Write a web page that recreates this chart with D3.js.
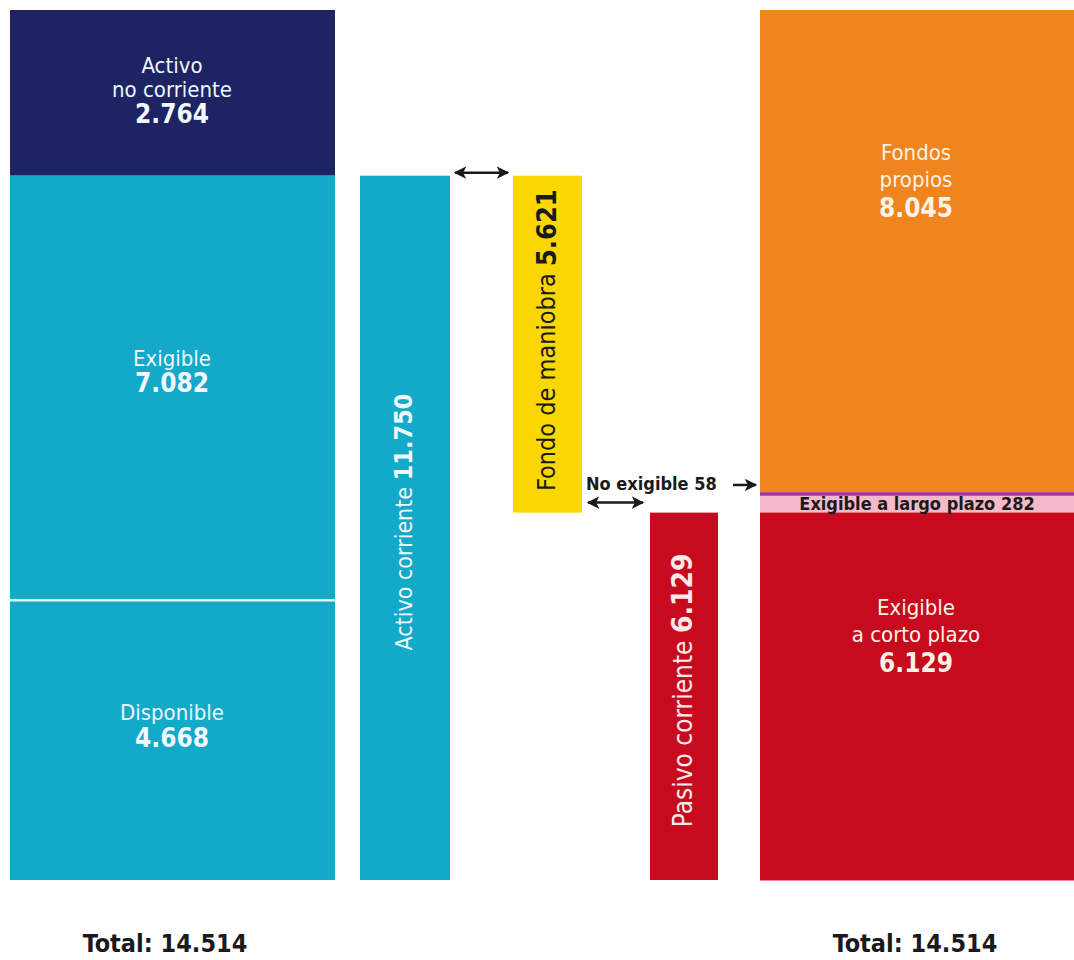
<!DOCTYPE html>
<html><head><meta charset="utf-8">
<script src="https://cdn.jsdelivr.net/npm/d3@7"></script>
<style>
body{margin:0;background:#fff;}
svg{display:block;}
text{font-family:"DejaVu Sans Condensed","Liberation Sans Narrow","Roboto Condensed",sans-serif;}
</style></head><body>
<svg id="c" width="1074" height="960"></svg>
<script>
// ---- data ----
const activoNames = ["Activo\nno corriente", "Exigible", "Disponible"];
const activoValues = [2764, 7082, 4668];
const pasivoNames = ["Fondos\npropios", "No exigible", "Exigible a largo plazo", "Exigible\na corto plazo"];
const pasivoValues = [8045, 58, 282, 6129];
const activoCorriente = 11750;
const pasivoCorriente = 6129;
const fondoManiobra = 5621;
const totalLabel = "Total: 14.514";
const fmt = v => d3.format(",")(v).replace(/,/g, ".");

// ---- styles ----
const activoColors = ["#1d2363", "#13a9c9", "#13a9c9"];
const pasivoColors = ["#f0851f", "#a1379b", "#f5b9c9", "#c70a1e"];
const cyan = "#13a9c9", yellow = "#f8d800", red = "#c70a1e", ink = "#1a1a1a";

const svg = d3.select("#c");
const total = d3.sum(activoValues);
const y = d3.scaleLinear().domain([0, total]).range([10, 880]);

function stack(vals) { let acc = 0; return vals.map(v => { const s = acc; acc += v; return [s, acc]; }); }
const aStack = stack(activoValues), pStack = stack(pasivoValues);

// left bar
svg.selectAll("rect.a").data(activoValues).join("rect")
  .attr("x", 10).attr("width", 325)
  .attr("y", (d, i) => y(aStack[i][0])).attr("height", (d, i) => y(aStack[i][1]) - y(aStack[i][0]))
  .attr("fill", (d, i) => activoColors[i]);
svg.append("line").attr("x1", 10).attr("x2", 335)
  .attr("y1", y(aStack[2][0])).attr("y2", y(aStack[2][0]))
  .attr("stroke", "#e8fbff").attr("stroke-width", 2.5);

const aLabelOff = [-2, -16, -14];
activoValues.forEach((v, i) => {
  const cy = (y(aStack[i][0]) + y(aStack[i][1])) / 2 + aLabelOff[i];
  const lines = activoNames[i].split("\n");
  const n = lines.length + 1, lh = 24;
  const t0 = cy - (n - 1) * lh / 2;
  lines.forEach((l, j) => svg.append("text").attr("x", 172).attr("y", t0 + j * lh)
    .attr("text-anchor", "middle").attr("dominant-baseline", "middle")
    .attr("fill", "#eef6ff").attr("font-size", 22).text(l));
  svg.append("text").attr("x", 172).attr("y", t0 + lines.length * lh + 1)
    .attr("text-anchor", "middle").attr("dominant-baseline", "middle")
    .attr("fill", "#f4f8ff").attr("font-size", 26).attr("font-weight", "bold").text(fmt(v));
});

// Activo corriente bar
const acTop = y(total - activoCorriente);
svg.append("rect").attr("x", 360).attr("width", 90).attr("y", acTop).attr("height", y(total) - acTop).attr("fill", cyan);
// Fondo de maniobra bar
const fmBottom = y(total - pasivoCorriente);
svg.append("rect").attr("x", 513).attr("width", 69).attr("y", acTop).attr("height", fmBottom - acTop).attr("fill", yellow);
// Pasivo corriente bar
svg.append("rect").attr("x", 650).attr("width", 68).attr("y", fmBottom).attr("height", y(total) - fmBottom).attr("fill", red);

// right bar
svg.selectAll("rect.p").data(pasivoValues).join("rect")
  .attr("x", 760).attr("width", 314)
  .attr("y", (d, i) => y(pStack[i][0])).attr("height", (d, i) => y(pStack[i][1]) - y(pStack[i][0]) + 0.5)
  .attr("fill", (d, i) => pasivoColors[i]);

const pLabelOff = { 0: -70, 3: -60 };
[0, 3].forEach(i => {
  const cy = (y(pStack[i][0]) + y(pStack[i][1])) / 2 + pLabelOff[i];
  const lines = pasivoNames[i].split("\n");
  const lh = 27;
  const t0 = cy - lines.length * lh / 2;
  lines.forEach((l, j) => svg.append("text").attr("x", 916).attr("y", t0 + j * lh)
    .attr("text-anchor", "middle").attr("dominant-baseline", "middle")
    .attr("fill", "#fbf3e6").attr("font-size", 22).text(l));
  svg.append("text").attr("x", 916).attr("y", t0 + lines.length * lh + 1)
    .attr("text-anchor", "middle").attr("dominant-baseline", "middle")
    .attr("fill", "#fbf3e6").attr("font-size", 26).attr("font-weight", "bold").text(fmt(pasivoValues[i]));
});
svg.append("text").attr("x", 917).attr("y", (y(pStack[2][0]) + y(pStack[2][1])) / 2 + 1)
  .attr("text-anchor", "middle").attr("dominant-baseline", "middle")
  .attr("fill", ink).attr("font-size", 18).attr("font-weight", "bold")
  .text(pasivoNames[2] + " " + fmt(pasivoValues[2]));

// rotated labels
function vlabel(cx, cy, name, val, color, fs) {
  const t = svg.append("text").attr("transform", `translate(${cx},${cy}) rotate(-90)`)
    .attr("text-anchor", "middle").attr("dominant-baseline", "middle")
    .attr("fill", color).attr("font-size", fs);
  t.append("tspan").text(name + "  ");
  t.append("tspan").attr("font-weight", "bold").attr("font-size", fs + 2).text(fmt(val));
}
vlabel(405, 522, "Activo corriente", activoCorriente, "#eef8ff", 23);
vlabel(548, (acTop + fmBottom) / 2 - 4, "Fondo de maniobra", fondoManiobra, ink, 25);
vlabel(684, (fmBottom + y(total)) / 2 - 6, "Pasivo corriente", pasivoCorriente, "#fbe9ea", 26);

// arrows
const defs = svg.append("defs");
defs.append("marker").attr("id", "ah").attr("viewBox", "0 0 10 10").attr("refX", 9).attr("refY", 5)
  .attr("markerWidth", 5).attr("markerHeight", 5).attr("orient", "auto-start-reverse")
  .append("path").attr("d", "M0,0 L10,5 L0,10 L2.5,5 Z").attr("fill", ink);
function arrow(x1, x2, yy, both) {
  svg.append("line").attr("x1", x1).attr("x2", x2).attr("y1", yy).attr("y2", yy)
    .attr("stroke", ink).attr("stroke-width", 2.5)
    .attr("marker-end", "url(#ah)").attr("marker-start", both ? "url(#ah)" : null);
}
arrow(455, 508, acTop - 3, true);
arrow(588, 643, fmBottom - 10, true);
const neY = (y(pStack[1][0]) + y(pStack[1][1])) / 2;
svg.append("text").attr("x", 586).attr("y", neY - 9).attr("dominant-baseline", "middle")
  .attr("fill", ink).attr("font-size", 18).attr("font-weight", "bold")
  .text(pasivoNames[1] + " " + fmt(pasivoValues[1]));
arrow(733, 756, neY - 9, false);

// totals
[165, 915].forEach(x => svg.append("text").attr("x", x).attr("y", 945)
  .attr("text-anchor", "middle").attr("dominant-baseline", "middle")
  .attr("fill", ink).attr("font-size", 25).attr("font-weight", "bold").text(totalLabel));
</script>
</body></html>
